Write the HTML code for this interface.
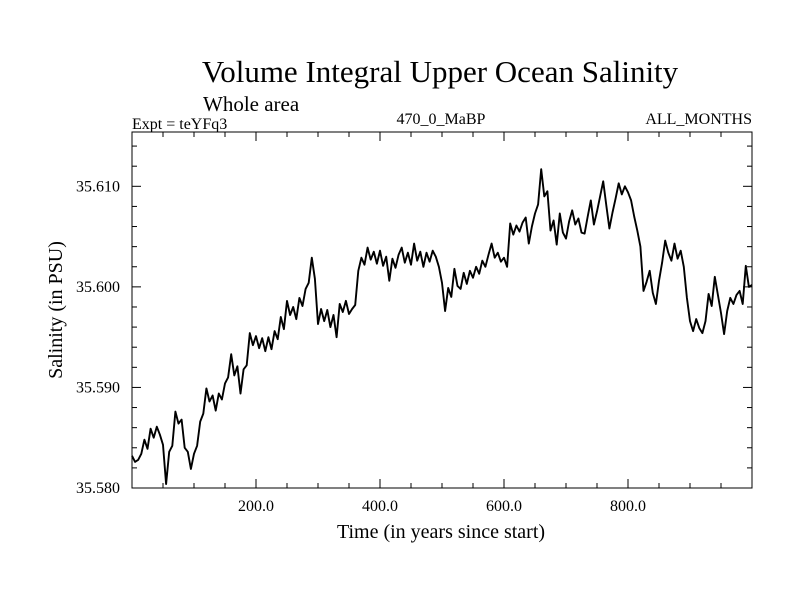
<!DOCTYPE html>
<html><head><meta charset="utf-8"><style>
html,body{margin:0;padding:0;background:#fff;}
svg{display:block;font-family:"Liberation Serif",serif;}
</style></head><body>
<svg id="chart" width="800" height="600" viewBox="0 0 800 600" xmlns="http://www.w3.org/2000/svg">
<rect width="800" height="600" fill="#fff"/>
<text x="440" y="82" font-size="31" text-anchor="middle">Volume Integral Upper Ocean Salinity</text>
<text x="203" y="111" font-size="21">Whole area</text>
<text x="132" y="129" font-size="16">Expt = teYFq3</text>
<text x="441" y="124" font-size="16" text-anchor="middle">470_0_MaBP</text>
<text x="752" y="124" font-size="16" text-anchor="end">ALL_MONTHS</text>
<text transform="translate(62,310) rotate(-90)" font-size="20" text-anchor="middle">Salinity (in PSU)</text>
<text x="441" y="538" font-size="20" text-anchor="middle">Time (in years since start)</text>
<g id="axes"></g>
<path id="line" fill="none" stroke="#000" stroke-width="1.9" stroke-linejoin="round"/>
<rect x="132" y="132" width="620" height="356" fill="none" stroke="#000" stroke-width="1"/>
</svg>
<script>
const salinity = [35.5832,35.5826,35.5828,35.5834,35.5848,35.5839,35.5859,35.5850,35.5861,35.5853,35.5843,35.5804,35.5836,35.5842,35.5876,35.5864,35.5868,35.5840,35.5836,35.5819,35.5834,35.5842,35.5866,35.5874,35.5899,35.5886,35.5892,35.5877,35.5894,35.5888,35.5904,35.5910,35.5933,35.5912,35.5921,35.5894,35.5918,35.5922,35.5954,35.5942,35.5951,35.5939,35.5949,35.5936,35.5950,35.5938,35.5956,35.5948,35.5970,35.5958,35.5986,35.5972,35.5980,35.5968,35.5989,35.5981,35.5998,35.6004,35.6029,35.6008,35.5963,35.5978,35.5966,35.5977,35.5960,35.5972,35.5950,35.5983,35.5975,35.5986,35.5973,35.5978,35.5982,35.6016,35.6029,35.6022,35.6039,35.6027,35.6035,35.6023,35.6036,35.6021,35.6030,35.6006,35.6028,35.6019,35.6032,35.6039,35.6024,35.6034,35.6022,35.6043,35.6026,35.6035,35.6020,35.6034,35.6025,35.6036,35.6030,35.6020,35.6004,35.5976,35.5999,35.5990,35.6018,35.6001,35.5998,35.6014,35.6003,35.6016,35.6009,35.6020,35.6013,35.6026,35.6020,35.6032,35.6043,35.6029,35.6034,35.6025,35.6029,35.6020,35.6063,35.6052,35.6061,35.6055,35.6064,35.6069,35.6043,35.6060,35.6073,35.6082,35.6117,35.6090,35.6095,35.6056,35.6066,35.6042,35.6073,35.6054,35.6048,35.6065,35.6076,35.6062,35.6068,35.6054,35.6053,35.6070,35.6086,35.6062,35.6075,35.6090,35.6105,35.6081,35.6058,35.6074,35.6088,35.6103,35.6092,35.6100,35.6094,35.6086,35.6070,35.6056,35.6040,35.5996,35.6005,35.6016,35.5994,35.5983,35.6006,35.6024,35.6046,35.6034,35.6026,35.6043,35.6028,35.6036,35.6020,35.5989,35.5966,35.5956,35.5968,35.5959,35.5954,35.5966,35.5993,35.5981,35.6010,35.5992,35.5974,35.5953,35.5976,35.5989,35.5983,35.5992,35.5996,35.5983,35.6021,35.6000,35.6002];
const yearStep = 5;
const xTickLabels = ["200.0","400.0","600.0","800.0"];
const xTickValues = [200,400,600,800];
const yTickLabels = ["35.580","35.590","35.600","35.610"];
const yTickValues = [35.580,35.590,35.600,35.610];

const X0=132,X1=752,Y0=488,Y1=132;
const xMin=0,xMax=1000,yMin=35.580,yMax=35.6154;
const xs=v=>X0+(v-xMin)/(xMax-xMin)*(X1-X0);
const ys=v=>Y0-(v-yMin)/(yMax-yMin)*(Y0-Y1);
const NS="http://www.w3.org/2000/svg";
const axes=document.getElementById('axes');
function ln(x1,y1,x2,y2,name){
  const l=document.createElementNS(NS,'line');
  l.setAttribute('x1',x1);l.setAttribute('y1',y1);l.setAttribute('x2',x2);l.setAttribute('y2',y2);
  l.setAttribute('stroke','#000');l.setAttribute('stroke-width','1');
  
  
  axes.appendChild(l);
}
function tx(x,y,s,anchor,name){
  const t=document.createElementNS(NS,'text');
  t.setAttribute('x',x);t.setAttribute('y',y);t.setAttribute('font-size','16');t.setAttribute('text-anchor',anchor);
  t.textContent=s;
  
  
  axes.appendChild(t);
}
for(let v=50;v<1000;v+=50){
  const major=v%200===0, L=major?9:5, x=xs(v);
  ln(x,Y0,x,Y0-L,'x-tick');
  ln(x,Y1,x,Y1+L,'x-tick-top');
}
for(let k=1;k<18;k++){
  const v=35.580+k*0.002, major=k%5===0, L=major?9:5, y=ys(v);
  ln(X0,y,X0+L,y,'y-tick');
  ln(X1,y,X1-L,y,'y-tick-right');
}
xTickValues.forEach((v,i)=>tx(xs(v),511,xTickLabels[i],'middle','x-tick-label'));
yTickValues.forEach((v,i)=>tx(120,ys(v)+5,yTickLabels[i],'end','y-tick-label'));
let d='';
salinity.forEach((v,i)=>{d+=(i?'L':'M')+xs(i*yearStep).toFixed(1)+','+ys(v).toFixed(1);});
document.getElementById('line').setAttribute('d',d);
</script>
</body></html>
